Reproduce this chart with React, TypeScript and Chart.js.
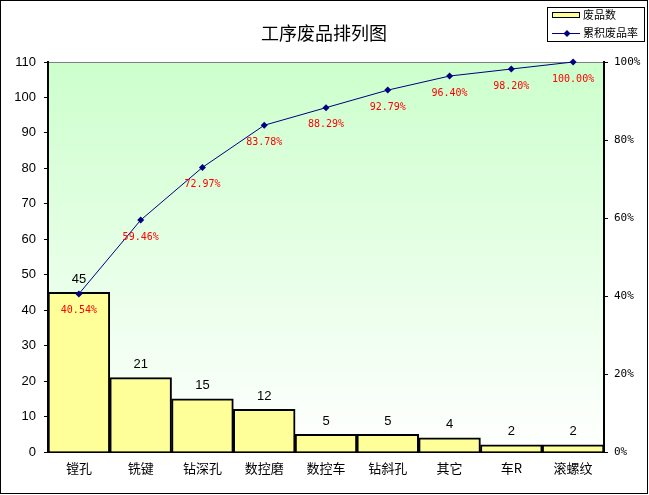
import { useEffect, useRef } from "react";
import { Chart, registerables } from "chart.js";

Chart.register(...registerables);

const categories = ["镗孔", "铣键", "钻深孔", "数控磨", "数控车", "钻斜孔", "其它", "车R", "滚螺纹"];
const rejects = [45, 21, 15, 12, 5, 5, 4, 2, 2];
const cumulativePct = [40.54, 59.46, 72.97, 83.78, 88.29, 92.79, 96.4, 98.2, 100.0];

const CJK = "'Noto Sans CJK SC', sans-serif";

const decorPlugin = {
  id: "decor",
  beforeDraw(chart: Chart) {
    const { ctx, chartArea: a, width, height } = chart;
    ctx.save();
    ctx.fillStyle = "#ffffff";
    ctx.fillRect(0, 0, width, height);
    const g = ctx.createLinearGradient(0, a.top, 0, a.bottom);
    g.addColorStop(0, "#ccffcc");
    g.addColorStop(1, "#ffffff");
    ctx.fillStyle = g;
    ctx.fillRect(a.left, a.top, a.right - a.left, a.bottom - a.top);
    ctx.strokeStyle = "#808080";
    ctx.lineWidth = 1;
    ctx.beginPath();
    ctx.moveTo(a.left, a.top + 0.5);
    ctx.lineTo(a.right, a.top + 0.5);
    ctx.stroke();
    ctx.restore();
  },
  afterDraw(chart: Chart) {
    const { ctx } = chart;
    ctx.save();
    // outer frame
    ctx.strokeStyle = "#000";
    ctx.lineWidth = 1;
    ctx.strokeRect(0.5, 0.5, 647, 493);
    // title
    ctx.fillStyle = "#000";
    ctx.font = `18px ${CJK}`;
    ctx.textAlign = "center";
    ctx.textBaseline = "middle";
    ctx.fillText("工序废品排列图", 324, 33);
    // legend
    ctx.strokeRect(547.5, 7.5, 97, 34);
    ctx.fillStyle = "#ffff99";
    ctx.fillRect(552.5, 12.5, 27, 5);
    ctx.strokeRect(552.5, 12.5, 27, 5);
    ctx.strokeStyle = "#000080";
    ctx.beginPath();
    ctx.moveTo(552, 33.5);
    ctx.lineTo(580, 33.5);
    ctx.stroke();
    ctx.fillStyle = "#000080";
    ctx.beginPath();
    ctx.moveTo(567, 30);
    ctx.lineTo(570.5, 33.5);
    ctx.lineTo(567, 37);
    ctx.lineTo(563.5, 33.5);
    ctx.closePath();
    ctx.fill();
    ctx.fillStyle = "#000";
    ctx.font = `11px ${CJK}`;
    ctx.textAlign = "left";
    ctx.fillText("废品数", 583, 15);
    ctx.fillText("累积废品率", 583, 33);
    ctx.restore();
  },
  afterDatasetsDraw(chart: Chart) {
    const { ctx } = chart;
    ctx.save();
    ctx.textAlign = "center";
    ctx.textBaseline = "middle";
    const bars = chart.getDatasetMeta(0).data;
    ctx.fillStyle = "#000";
    ctx.font = "13px 'Liberation Sans', Arial, sans-serif";
    bars.forEach((el: any, i: number) => {
      ctx.fillText(String(rejects[i]), el.x, el.y - 13);
    });
    const pts = chart.getDatasetMeta(1).data;
    ctx.fillStyle = "#ff0000";
    ctx.font = "10px 'DejaVu Sans Mono', monospace";
    pts.forEach((el: any, i: number) => {
      ctx.fillText(cumulativePct[i].toFixed(2) + "%", el.x, el.y + 17);
    });
    ctx.restore();
  },
};

export default function App() {
  const canvasRef = useRef<HTMLCanvasElement>(null);

  useEffect(() => {
    document.body.style.margin = "0";
    if (!canvasRef.current) return;
    const chart = new Chart(canvasRef.current, {
      type: "bar",
      data: {
        labels: categories,
        datasets: [
          {
            type: "bar",
            label: "废品数",
            data: rejects,
            backgroundColor: "#ffff99",
            borderColor: "#000",
            borderWidth: 2,
            barPercentage: 1,
            categoryPercentage: 1,
            yAxisID: "y",
            order: 2,
          },
          {
            type: "line",
            label: "累积废品率",
            data: cumulativePct,
            borderColor: "#000080",
            borderWidth: 1,
            backgroundColor: "#000080",
            pointStyle: "rectRot",
            pointRadius: 3.5,
            pointBorderWidth: 0,
            yAxisID: "y1",
            clip: false,
            order: 1,
          } as any,
        ],
      },
      options: {
        animation: false,
        responsive: true,
        maintainAspectRatio: false,
        layout: { padding: { top: 62, left: 0, right: 0, bottom: 0 } },
        plugins: {
          legend: { display: false },
          title: { display: false },
          tooltip: { enabled: false },
        },
        scales: {
          x: {
            offset: true,
            grid: { display: false },
            border: { color: "#000", width: 2 },
            ticks: {
              color: "#000",
              font: { family: "'Noto Sans CJK SC'", size: 13 },
              padding: 0,
              maxRotation: 0,
            },
            afterFit: (s: any) => {
              s.height = 43;
            },
          },
          y: {
            position: "left",
            min: 0,
            max: 110,
            ticks: {
              stepSize: 10,
              color: "#000",
              font: { family: "'Liberation Sans', Arial", size: 13 },
              padding: 8,
            },
            grid: { drawOnChartArea: false, tickLength: 4, color: "#000" },
            border: { color: "#000", width: 2 },
            afterFit: (s: any) => {
              s.width = 48;
            },
          },
          y1: {
            position: "right",
            min: 0,
            max: 100,
            ticks: {
              stepSize: 20,
              color: "#000",
              font: { family: "'DejaVu Sans Mono', monospace", size: 11 },
              padding: 6,
              callback: (v: any) => v + "%",
            },
            grid: { drawOnChartArea: false, tickLength: 4, color: "#000" },
            border: { color: "#000", width: 2 },
            afterFit: (s: any) => {
              s.width = 45;
            },
          },
        },
      },
      plugins: [decorPlugin],
    });
    return () => chart.destroy();
  }, []);

  return (
    <div style={{ width: 649, height: 495, position: "relative" }}>
      <canvas ref={canvasRef} />
    </div>
  );
}
